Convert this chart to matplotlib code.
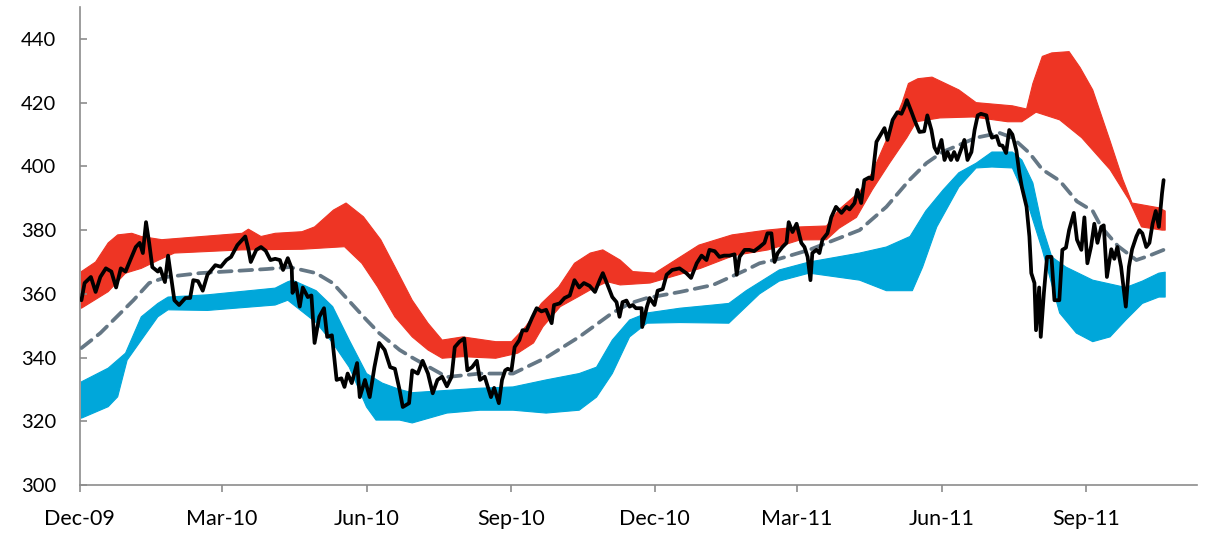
import numpy as np
import pandas as pd
import matplotlib
matplotlib.use("Agg")
import matplotlib.pyplot as plt
import matplotlib.dates as mdates

plt.rcParams['font.family'] = ['Lato', 'DejaVu Sans']

START = "2009-12-01"

# ---- data: (days since START, value) ----
red_upper_days = [1, 10, 18, 24, 33, 39, 52, 103, 107, 115, 124, 141, 149, 161, 169, 180, 191, 200, 211, 221, 230,
                  243, 264, 274, 283, 293, 304, 314, 324, 332, 343, 351, 365, 393, 414, 436, 457, 474, 482, 495,
                  503, 514, 522, 526, 532, 541, 558, 569, 592, 601, 605, 611, 617, 628, 635, 643, 654, 662, 668,
                  685, 689]
red_upper_vals = [367, 370, 376, 378.5, 379, 378, 377, 379, 380.3, 378, 379, 379.5, 381, 386.3, 388.5, 384.2, 377,
                  368.5, 358, 350.8, 345.5, 346.5, 345, 345, 349.7, 357, 362.2, 369.6, 372.8, 373.8, 370.6, 367,
                  366.5, 375.3, 378.5, 380, 381, 381.3, 386.5, 392, 398, 410.5, 420, 426, 427.5, 428, 424, 420,
                  419, 418, 426, 434.5, 435.6, 436, 431, 424, 408, 396, 388.5, 387, 386]

red_lower_days = [1, 18, 29, 39, 50, 60, 103, 141, 168, 179, 189, 200, 211, 221, 230, 243, 264, 278, 288, 294, 305,
                  316, 326, 335, 343, 362, 394, 415, 437, 457, 474, 482, 493, 503, 514, 525, 531, 546, 567, 589,
                  598, 607, 622, 636, 654, 666, 674, 687, 689]
red_lower_vals = [355.5, 360.7, 366.5, 368, 370.6, 372.8, 373.8, 374, 374.8, 369.6, 362.2, 352.8, 346.5, 342.4,
                  339.8, 340.3, 339.8, 341.4, 344.6, 349.7, 356, 359, 361.8, 363.8, 362.8, 363.4, 368, 372, 373.8,
                  376.9, 377, 380.6, 384, 392.6, 401, 409, 414, 415.2, 415.5, 414, 414, 417, 414.6, 409, 399, 389.5,
                  381, 380, 380]

blue_upper_days = [1, 18, 29, 39, 49.5, 56, 81, 124, 132, 135, 150, 160.5, 171, 182, 192, 203, 211, 254, 275, 296,
                   317, 328, 338, 349, 360, 381, 402, 412, 423, 444, 463, 495, 512, 527, 537, 548, 558, 569, 579,
                   592, 598, 605, 611, 617, 626, 643, 664, 674.5, 685, 689]
blue_upper_vals = [332.4, 336.7, 341.4, 352.8, 357, 359, 359.7, 361.8, 363.8, 364.3, 361, 356, 345.5, 335, 332,
                   330, 329, 330.4, 330.8, 333, 335, 337, 345.5, 351.8, 354, 355.5, 356.5, 357, 361, 367.5, 370,
                   372.8, 374.7, 378, 386, 392.6, 398, 401, 404.5, 404.5, 402, 394.8, 381, 371.6, 368.4, 364.3,
                   362, 364, 366.5, 366.8]

blue_lower_days = [1, 18, 24, 30, 39, 49.5, 56, 81, 124, 132, 150, 160.5, 171, 182, 188, 203, 211, 233, 254, 275,
                   296, 317, 328, 338, 349, 360, 381, 412, 423, 431.5, 444, 463, 495, 512, 528.5, 535, 544, 558,
                   569, 579, 592, 601, 611, 622, 632.6, 643, 654, 664, 674.5, 685, 689]
blue_lower_vals = [321, 324.6, 327.7, 339.2, 345.5, 352.8, 355, 354.8, 356.5, 358, 351, 344.6, 337, 324.5, 320.4,
                   320.4, 319.5, 322.6, 323.5, 323.5, 322.6, 323.5, 327.6, 335, 346.5, 350.8, 351, 350.8, 356,
                   360, 364, 366.5, 364.3, 361, 361, 368.4, 381, 393.5, 399.5, 399.8, 399.5, 389.5, 373.8, 354,
                   347.7, 345, 346.5, 351.8, 357, 359, 359]

mid_days = [1, 13, 34, 44, 55, 76, 119, 133, 150, 160.5, 182, 190, 203, 211, 233, 254, 275, 296, 317, 338, 349,
            360, 381, 402, 423, 431.5, 444, 463, 495, 512, 526.6, 537.4, 547.6, 569, 583.8, 592, 602.8, 611, 622,
            633, 643, 648.4, 659, 670.7, 679, 689]
mid_vals = [343, 347.7, 358, 363.4, 365.3, 366.5, 367.8, 368.4, 366.5, 363.4, 351.8, 347.7, 342.4, 340, 333.9, 335,
            335, 340, 346.5, 354, 357, 358.7, 360.6, 362.8, 367.5, 369.6, 371, 373.8, 380, 387.3, 395.7, 401, 404.5,
            409, 410.5, 409, 404.2, 399, 395.5, 389, 386, 381, 375, 370.6, 372, 374]

price_days = [1, 3, 7, 10, 13, 16.5, 20, 23, 26, 29, 32, 35.5, 38, 40, 42, 44, 46, 49.5, 51, 54, 56, 58, 60, 63, 67,
              70, 72, 75, 78, 81, 86, 89.5, 93, 96, 100, 105, 107, 108.5, 112, 115, 118, 121, 124,
              127, 129, 132, 134.5, 135, 137, 139.6, 141.5, 144.7, 147, 149, 152, 155, 157, 160, 163, 166, 168,
              170, 172.6, 176, 177.7, 181, 184, 187, 190, 193.5, 197, 200, 203, 205, 209, 211, 214.5, 217.6, 221,
              224, 227, 230, 233, 236, 238, 241, 244, 246,
              249, 252, 254, 257, 259, 261, 263, 266, 268, 270, 271.6, 274, 276, 279, 281, 283.6, 287, 290, 293,
              296, 299.5, 301, 304.6, 307.7, 311, 314, 317, 320, 323.6, 327, 330, 332, 335, 338, 340.7, 342.6,
              344.5, 347, 349, 351, 353, 356.6, 357, 360,
              361.7, 364.8, 366.8, 370, 372.5, 376, 380.7, 385, 388, 391.6, 394.7, 397.8, 399.7, 403, 406, 409,
              412.4, 415.6, 417, 418.8, 422, 425, 428, 431.5, 434.6, 436.5, 439, 441, 443, 446, 448.6, 450, 452.4,
              455, 458, 460, 462, 463.8, 465, 467.6, 469.5, 471.4, 474.6, 477, 480, 483.5, 486.7,
              488.6, 491.8, 493.6, 496, 498, 501, 503, 505.7, 509, 510.8, 512.7, 516, 519, 521.6, 523.5, 525, 528,
              529.8, 533, 536, 538, 540.6, 542.5, 544.4, 547, 548.9, 550.8, 553, 555, 557, 559.6, 561.5, 563.5,
              566, 568, 570, 572, 575.5, 577.4, 579, 582, 583.8, 585.7, 588, 590, 592, 594.5, 596.4, 598, 601,
              602.8,
              604, 606, 607, 609, 610, 612, 614, 616.8, 618.7, 621.8, 623.7, 626, 628, 631, 633, 635.8, 637.7,
              639.6, 642, 644, 646, 648.4, 650, 652, 654.8, 656.7, 658.6, 661, 664, 666, 668, 670.7, 672.6, 674.5,
              677, 679, 681, 683, 685, 687, 688]
price_vals = [358, 363.4, 365.3, 360.6, 365.3, 368, 367, 362, 368, 367, 370.6, 374.7, 376, 372.8, 382.5, 376, 368.4,
              367, 368, 363.7, 372, 365, 358, 356.5, 358.7, 358.7, 364.3, 364, 361, 366, 369, 368.5, 370.6, 371.6,
              375.3, 378, 374, 370, 373.8, 374.7, 373.5, 370.6, 371,
              370.6, 367.5, 371.2, 368, 360.3, 363.4, 356, 362, 359, 359.5, 344.6, 352.8, 355.5, 346.5, 347, 333,
              333.5, 330.8, 335, 332, 338.3, 327.6, 333, 327.6, 337, 344.6, 342.4, 337, 336.5, 329.8, 324.5, 325.7,
              336, 335, 339, 335, 328.8, 333, 334, 331, 334, 343.3, 345, 346, 336,
              337, 339, 333, 334, 330.8, 327.6, 330.5, 325.7, 333, 336, 336.5, 336, 343.3, 345.5, 348.6, 348.5,
              352.4, 355.5, 354.5, 355, 350.8, 356.5, 357, 358.7, 359.5, 364.3, 362, 363.4, 362.5, 360.6, 364.3,
              366.5, 362.8, 359, 357.4, 352.8, 357.4, 357.9, 356, 356.5, 355.5, 355.5, 349.6, 356,
              358.7, 356.5, 361, 361.5, 366, 367.5, 368, 366.5, 365, 369.6, 372, 370.6, 373.8, 373.4, 371.6, 372,
              372, 372.4, 366, 371.6, 373.8, 373.8, 373.4, 374.7, 376, 379, 379, 370, 372.8, 374.7, 376, 382.5,
              379.4, 382, 376, 374.7, 371.6, 364.3, 372.8, 373.8, 372.8, 377, 379, 384, 387.3, 385.4, 387.3,
              386.5, 388.5, 392.6, 388.5, 395.7, 396.5, 396, 407.7, 410.5, 412, 408.3, 414.6, 417, 416.5, 418.6,
              420.8, 417, 414.6, 410.8, 411, 416, 411.4, 406, 404.2, 408.3, 402, 404.5, 402, 404.5, 402, 405.5,
              408.3, 402, 404.5, 411.4, 416, 416.5, 416, 411.4, 409, 409.5, 406.7, 406.5, 404.2, 411.4, 410, 405,
              398, 393.5, 387.3, 378,
              366.5, 363.4, 348.6, 362, 346.5, 360.3, 371.6, 371.6, 358, 358, 373.8, 374.5, 380, 385.4, 377, 373.8,
              384, 369.6, 375, 382, 376, 381, 381.5, 365.3, 374, 371, 374.7, 368.5, 356, 368.5, 374, 378, 380, 379,
              374.7, 376, 382, 386, 381, 391.6, 395.7]

y_ticks = [300, 320, 340, 360, 380, 400, 420, 440]

RED = "#EE3524"
BLUE = "#00A7DA"
GREY = "#657785"


def to_dates(days):
    return pd.Timestamp(START) + pd.to_timedelta(np.asarray(days, dtype=float), unit="D")


fig = plt.figure(figsize=(12.10, 5.39), dpi=100)
ax = fig.add_axes([0.066, 0.1, 0.923, 0.887])


def band(ud, uv, ld, lv, color):
    xu = mdates.date2num(to_dates(ud))
    xl = mdates.date2num(to_dates(ld))
    xs = np.concatenate([xu, xl[::-1]])
    ys = np.concatenate([uv, lv[::-1]])
    ax.fill(xs, ys, color=color, lw=0.8, ec=color, joinstyle="round", zorder=1)


band(red_upper_days, np.array(red_upper_vals), red_lower_days, np.array(red_lower_vals), RED)
band(blue_upper_days, np.array(blue_upper_vals), blue_lower_days, np.array(blue_lower_vals), BLUE)

ax.plot(mdates.date2num(to_dates(mid_days)), mid_vals, color=GREY, lw=2.7, ls=(0, (3.4, 2.1)),
        dash_capstyle="round", zorder=3)
ax.plot(mdates.date2num(to_dates(price_days)), price_vals, color="black", lw=2.7, zorder=4,
        solid_joinstyle="round", solid_capstyle="round")

ax.set_ylim(300, 450)
ax.set_yticks(y_ticks)
ax.set_xlim(mdates.date2num(pd.Timestamp(START)), mdates.date2num(pd.Timestamp(START) + pd.Timedelta(days=709)))
ax.xaxis.set_major_locator(mdates.MonthLocator(bymonth=[3, 6, 9, 12]))
ax.xaxis.set_major_formatter(mdates.DateFormatter("%b-%y"))

for s in ["top", "right"]:
    ax.spines[s].set_visible(False)
for s in ["left", "bottom"]:
    ax.spines[s].set_color("#8C8C8C")
    ax.spines[s].set_linewidth(1.2)

ax.tick_params(axis="y", direction="in", length=5, width=1.2, color="#8C8C8C", pad=17, labelsize=14.5)
ax.tick_params(axis="x", direction="out", length=5, width=1.2, color="#8C8C8C", pad=12, labelsize=15.5)

fig.savefig("out.png", dpi=100)
